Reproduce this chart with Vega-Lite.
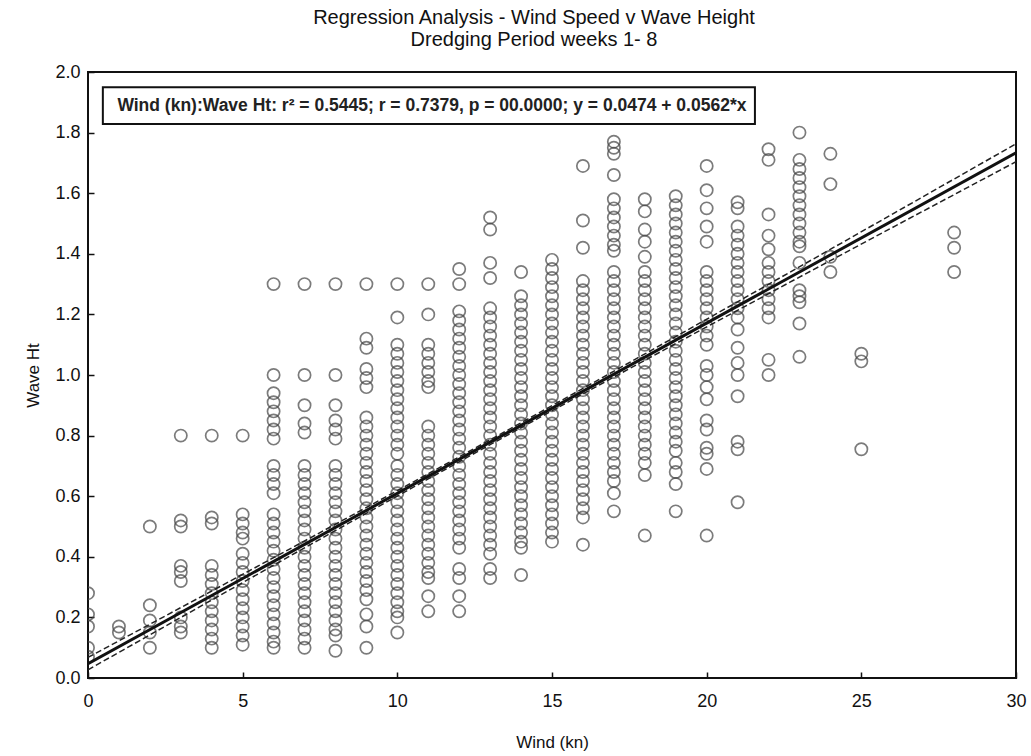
{
  "$schema": "https://vega.github.io/schema/vega-lite/v6.json",
  "autosize": "none",
  "width": 928,
  "height": 606,
  "padding": {"left": 88, "top": 72, "right": 15, "bottom": 78},
  "background": "white",
  "config": {
    "font": "Liberation Sans",
    "view": {"stroke": "#111", "strokeWidth": 2},
    "axis": {"grid": false, "domain": false, "labelFont": "Liberation Sans", "titleFont": "Liberation Sans", "labelFontSize": 18, "titleFontSize": 17, "titleFontWeight": "normal", "labelColor": "#111", "titleColor": "#111", "tickColor": "#111", "tickSize": -6, "tickWidth": 1.5}
  },
  "title": {
    "text": ["Regression Analysis - Wind Speed v Wave Height", "Dredging Period weeks 1- 8"],
    "fontSize": 20, "fontWeight": "normal", "font": "Liberation Sans", "color": "#111", "lineHeight": 22, "offset": 13, "anchor": "middle", "dx": -18
  },
  "datasets": {
    "pts": [
      {"w":0,"h":0.28},{"w":0,"h":0.21},{"w":0,"h":0.17},{"w":0,"h":0.10},{"w":0,"h":0.07},
      {"w":1,"h":0.17},{"w":1,"h":0.15},
      {"w":2,"h":0.50},{"w":2,"h":0.24},{"w":2,"h":0.19},{"w":2,"h":0.15},{"w":2,"h":0.10},
      {"w":3,"h":0.80},{"w":3,"h":0.52},{"w":3,"h":0.50},{"w":3,"h":0.37},{"w":3,"h":0.35},{"w":3,"h":0.32},{"w":3,"h":0.20},{"w":3,"h":0.17},{"w":3,"h":0.15},
      {"w":4,"h":0.80},{"w":4,"h":0.53},{"w":4,"h":0.51},{"w":4,"h":0.37},{"w":4,"h":0.34},{"w":4,"h":0.31},{"w":4,"h":0.28},{"w":4,"h":0.25},{"w":4,"h":0.22},{"w":4,"h":0.19},{"w":4,"h":0.16},{"w":4,"h":0.13},{"w":4,"h":0.10},
      {"w":5,"h":0.80},{"w":5,"h":0.54},{"w":5,"h":0.51},{"w":5,"h":0.48},{"w":5,"h":0.46},{"w":5,"h":0.41},{"w":5,"h":0.38},{"w":5,"h":0.35},{"w":5,"h":0.32},{"w":5,"h":0.29},{"w":5,"h":0.26},{"w":5,"h":0.23},{"w":5,"h":0.20},{"w":5,"h":0.17},{"w":5,"h":0.14},{"w":5,"h":0.11},
      {"w":6,"h":1.30},{"w":6,"h":1.00},{"w":6,"h":0.94},{"w":6,"h":0.91},{"w":6,"h":0.88},{"w":6,"h":0.85},{"w":6,"h":0.82},{"w":6,"h":0.79},{"w":6,"h":0.70},{"w":6,"h":0.67},{"w":6,"h":0.64},{"w":6,"h":0.61},{"w":6,"h":0.54},{"w":6,"h":0.51},{"w":6,"h":0.48},{"w":6,"h":0.45},{"w":6,"h":0.42},{"w":6,"h":0.39},{"w":6,"h":0.36},{"w":6,"h":0.33},{"w":6,"h":0.30},{"w":6,"h":0.27},{"w":6,"h":0.24},{"w":6,"h":0.21},{"w":6,"h":0.18},{"w":6,"h":0.15},{"w":6,"h":0.12},{"w":6,"h":0.10},
      {"w":7,"h":1.30},{"w":7,"h":1.00},{"w":7,"h":0.90},{"w":7,"h":0.84},{"w":7,"h":0.81},{"w":7,"h":0.70},{"w":7,"h":0.67},{"w":7,"h":0.64},{"w":7,"h":0.61},{"w":7,"h":0.58},{"w":7,"h":0.55},{"w":7,"h":0.52},{"w":7,"h":0.49},{"w":7,"h":0.46},{"w":7,"h":0.43},{"w":7,"h":0.40},{"w":7,"h":0.37},{"w":7,"h":0.34},{"w":7,"h":0.31},{"w":7,"h":0.28},{"w":7,"h":0.25},{"w":7,"h":0.22},{"w":7,"h":0.19},{"w":7,"h":0.16},{"w":7,"h":0.13},{"w":7,"h":0.10},
      {"w":8,"h":1.30},{"w":8,"h":1.00},{"w":8,"h":0.90},{"w":8,"h":0.85},{"w":8,"h":0.82},{"w":8,"h":0.79},{"w":8,"h":0.70},{"w":8,"h":0.67},{"w":8,"h":0.64},{"w":8,"h":0.61},{"w":8,"h":0.58},{"w":8,"h":0.55},{"w":8,"h":0.52},{"w":8,"h":0.49},{"w":8,"h":0.46},{"w":8,"h":0.43},{"w":8,"h":0.40},{"w":8,"h":0.37},{"w":8,"h":0.34},{"w":8,"h":0.31},{"w":8,"h":0.28},{"w":8,"h":0.25},{"w":8,"h":0.22},{"w":8,"h":0.19},{"w":8,"h":0.16},{"w":8,"h":0.14},{"w":8,"h":0.09},
      {"w":9,"h":1.30},{"w":9,"h":1.12},{"w":9,"h":1.09},{"w":9,"h":1.02},{"w":9,"h":0.99},{"w":9,"h":0.96},{"w":9,"h":0.86},{"w":9,"h":0.83},{"w":9,"h":0.80},{"w":9,"h":0.77},{"w":9,"h":0.74},{"w":9,"h":0.71},{"w":9,"h":0.68},{"w":9,"h":0.65},{"w":9,"h":0.62},{"w":9,"h":0.59},{"w":9,"h":0.56},{"w":9,"h":0.53},{"w":9,"h":0.50},{"w":9,"h":0.47},{"w":9,"h":0.44},{"w":9,"h":0.41},{"w":9,"h":0.38},{"w":9,"h":0.35},{"w":9,"h":0.32},{"w":9,"h":0.29},{"w":9,"h":0.26},{"w":9,"h":0.21},{"w":9,"h":0.17},{"w":9,"h":0.10},
      {"w":10,"h":1.30},{"w":10,"h":1.19},{"w":10,"h":1.10},{"w":10,"h":1.07},{"w":10,"h":1.04},{"w":10,"h":1.01},{"w":10,"h":0.98},{"w":10,"h":0.95},{"w":10,"h":0.92},{"w":10,"h":0.89},{"w":10,"h":0.86},{"w":10,"h":0.83},{"w":10,"h":0.80},{"w":10,"h":0.77},{"w":10,"h":0.74},{"w":10,"h":0.70},{"w":10,"h":0.67},{"w":10,"h":0.64},{"w":10,"h":0.61},{"w":10,"h":0.58},{"w":10,"h":0.55},{"w":10,"h":0.52},{"w":10,"h":0.49},{"w":10,"h":0.46},{"w":10,"h":0.43},{"w":10,"h":0.40},{"w":10,"h":0.37},{"w":10,"h":0.34},{"w":10,"h":0.31},{"w":10,"h":0.28},{"w":10,"h":0.25},{"w":10,"h":0.22},{"w":10,"h":0.20},{"w":10,"h":0.15},
      {"w":11,"h":1.30},{"w":11,"h":1.20},{"w":11,"h":1.10},{"w":11,"h":1.07},{"w":11,"h":1.04},{"w":11,"h":1.01},{"w":11,"h":0.98},{"w":11,"h":0.96},{"w":11,"h":0.83},{"w":11,"h":0.80},{"w":11,"h":0.77},{"w":11,"h":0.74},{"w":11,"h":0.71},{"w":11,"h":0.68},{"w":11,"h":0.65},{"w":11,"h":0.62},{"w":11,"h":0.59},{"w":11,"h":0.56},{"w":11,"h":0.53},{"w":11,"h":0.50},{"w":11,"h":0.47},{"w":11,"h":0.44},{"w":11,"h":0.41},{"w":11,"h":0.38},{"w":11,"h":0.35},{"w":11,"h":0.33},{"w":11,"h":0.27},{"w":11,"h":0.22},
      {"w":12,"h":1.35},{"w":12,"h":1.30},{"w":12,"h":1.21},{"w":12,"h":1.18},{"w":12,"h":1.15},{"w":12,"h":1.12},{"w":12,"h":1.09},{"w":12,"h":1.06},{"w":12,"h":1.03},{"w":12,"h":1.00},{"w":12,"h":0.97},{"w":12,"h":0.94},{"w":12,"h":0.91},{"w":12,"h":0.88},{"w":12,"h":0.85},{"w":12,"h":0.82},{"w":12,"h":0.79},{"w":12,"h":0.76},{"w":12,"h":0.73},{"w":12,"h":0.70},{"w":12,"h":0.67},{"w":12,"h":0.64},{"w":12,"h":0.61},{"w":12,"h":0.58},{"w":12,"h":0.55},{"w":12,"h":0.52},{"w":12,"h":0.49},{"w":12,"h":0.46},{"w":12,"h":0.43},{"w":12,"h":0.36},{"w":12,"h":0.33},{"w":12,"h":0.27},{"w":12,"h":0.22},
      {"w":13,"h":1.52},{"w":13,"h":1.48},{"w":13,"h":1.37},{"w":13,"h":1.32},{"w":13,"h":1.22},{"w":13,"h":1.19},{"w":13,"h":1.16},{"w":13,"h":1.13},{"w":13,"h":1.10},{"w":13,"h":1.07},{"w":13,"h":1.04},{"w":13,"h":1.01},{"w":13,"h":0.98},{"w":13,"h":0.95},{"w":13,"h":0.92},{"w":13,"h":0.89},{"w":13,"h":0.86},{"w":13,"h":0.83},{"w":13,"h":0.80},{"w":13,"h":0.77},{"w":13,"h":0.74},{"w":13,"h":0.71},{"w":13,"h":0.68},{"w":13,"h":0.65},{"w":13,"h":0.62},{"w":13,"h":0.59},{"w":13,"h":0.56},{"w":13,"h":0.53},{"w":13,"h":0.50},{"w":13,"h":0.47},{"w":13,"h":0.44},{"w":13,"h":0.41},{"w":13,"h":0.36},{"w":13,"h":0.33},
      {"w":14,"h":1.34},{"w":14,"h":1.26},{"w":14,"h":1.23},{"w":14,"h":1.20},{"w":14,"h":1.17},{"w":14,"h":1.14},{"w":14,"h":1.11},{"w":14,"h":1.08},{"w":14,"h":1.05},{"w":14,"h":1.02},{"w":14,"h":0.99},{"w":14,"h":0.96},{"w":14,"h":0.93},{"w":14,"h":0.90},{"w":14,"h":0.87},{"w":14,"h":0.84},{"w":14,"h":0.81},{"w":14,"h":0.78},{"w":14,"h":0.75},{"w":14,"h":0.72},{"w":14,"h":0.69},{"w":14,"h":0.66},{"w":14,"h":0.63},{"w":14,"h":0.60},{"w":14,"h":0.57},{"w":14,"h":0.54},{"w":14,"h":0.51},{"w":14,"h":0.48},{"w":14,"h":0.45},{"w":14,"h":0.43},{"w":14,"h":0.34},
      {"w":15,"h":1.38},{"w":15,"h":1.35},{"w":15,"h":1.32},{"w":15,"h":1.29},{"w":15,"h":1.26},{"w":15,"h":1.23},{"w":15,"h":1.20},{"w":15,"h":1.17},{"w":15,"h":1.14},{"w":15,"h":1.11},{"w":15,"h":1.08},{"w":15,"h":1.05},{"w":15,"h":1.02},{"w":15,"h":0.99},{"w":15,"h":0.96},{"w":15,"h":0.93},{"w":15,"h":0.90},{"w":15,"h":0.87},{"w":15,"h":0.84},{"w":15,"h":0.81},{"w":15,"h":0.78},{"w":15,"h":0.75},{"w":15,"h":0.72},{"w":15,"h":0.69},{"w":15,"h":0.66},{"w":15,"h":0.63},{"w":15,"h":0.60},{"w":15,"h":0.57},{"w":15,"h":0.54},{"w":15,"h":0.51},{"w":15,"h":0.48},{"w":15,"h":0.45},
      {"w":16,"h":1.69},{"w":16,"h":1.51},{"w":16,"h":1.42},{"w":16,"h":1.31},{"w":16,"h":1.28},{"w":16,"h":1.25},{"w":16,"h":1.22},{"w":16,"h":1.19},{"w":16,"h":1.16},{"w":16,"h":1.13},{"w":16,"h":1.10},{"w":16,"h":1.07},{"w":16,"h":1.04},{"w":16,"h":1.01},{"w":16,"h":0.98},{"w":16,"h":0.95},{"w":16,"h":0.92},{"w":16,"h":0.89},{"w":16,"h":0.86},{"w":16,"h":0.83},{"w":16,"h":0.80},{"w":16,"h":0.77},{"w":16,"h":0.74},{"w":16,"h":0.71},{"w":16,"h":0.68},{"w":16,"h":0.65},{"w":16,"h":0.62},{"w":16,"h":0.59},{"w":16,"h":0.56},{"w":16,"h":0.53},{"w":16,"h":0.44},
      {"w":17,"h":1.77},{"w":17,"h":1.75},{"w":17,"h":1.73},{"w":17,"h":1.66},{"w":17,"h":1.58},{"w":17,"h":1.55},{"w":17,"h":1.52},{"w":17,"h":1.49},{"w":17,"h":1.46},{"w":17,"h":1.43},{"w":17,"h":1.41},{"w":17,"h":1.34},{"w":17,"h":1.31},{"w":17,"h":1.28},{"w":17,"h":1.25},{"w":17,"h":1.22},{"w":17,"h":1.19},{"w":17,"h":1.16},{"w":17,"h":1.13},{"w":17,"h":1.10},{"w":17,"h":1.07},{"w":17,"h":1.04},{"w":17,"h":1.01},{"w":17,"h":0.98},{"w":17,"h":0.95},{"w":17,"h":0.92},{"w":17,"h":0.89},{"w":17,"h":0.86},{"w":17,"h":0.83},{"w":17,"h":0.80},{"w":17,"h":0.77},{"w":17,"h":0.74},{"w":17,"h":0.71},{"w":17,"h":0.68},{"w":17,"h":0.65},{"w":17,"h":0.61},{"w":17,"h":0.55},
      {"w":18,"h":1.58},{"w":18,"h":1.54},{"w":18,"h":1.48},{"w":18,"h":1.44},{"w":18,"h":1.39},{"w":18,"h":1.34},{"w":18,"h":1.31},{"w":18,"h":1.28},{"w":18,"h":1.25},{"w":18,"h":1.22},{"w":18,"h":1.19},{"w":18,"h":1.16},{"w":18,"h":1.13},{"w":18,"h":1.10},{"w":18,"h":1.07},{"w":18,"h":1.04},{"w":18,"h":1.01},{"w":18,"h":0.98},{"w":18,"h":0.95},{"w":18,"h":0.92},{"w":18,"h":0.89},{"w":18,"h":0.86},{"w":18,"h":0.83},{"w":18,"h":0.80},{"w":18,"h":0.77},{"w":18,"h":0.74},{"w":18,"h":0.71},{"w":18,"h":0.67},{"w":18,"h":0.47},
      {"w":19,"h":1.59},{"w":19,"h":1.56},{"w":19,"h":1.53},{"w":19,"h":1.50},{"w":19,"h":1.47},{"w":19,"h":1.44},{"w":19,"h":1.41},{"w":19,"h":1.38},{"w":19,"h":1.35},{"w":19,"h":1.32},{"w":19,"h":1.29},{"w":19,"h":1.26},{"w":19,"h":1.23},{"w":19,"h":1.20},{"w":19,"h":1.17},{"w":19,"h":1.14},{"w":19,"h":1.11},{"w":19,"h":1.08},{"w":19,"h":1.05},{"w":19,"h":1.02},{"w":19,"h":0.99},{"w":19,"h":0.96},{"w":19,"h":0.93},{"w":19,"h":0.90},{"w":19,"h":0.87},{"w":19,"h":0.84},{"w":19,"h":0.81},{"w":19,"h":0.78},{"w":19,"h":0.75},{"w":19,"h":0.71},{"w":19,"h":0.68},{"w":19,"h":0.64},{"w":19,"h":0.55},
      {"w":20,"h":1.69},{"w":20,"h":1.61},{"w":20,"h":1.55},{"w":20,"h":1.49},{"w":20,"h":1.44},{"w":20,"h":1.34},{"w":20,"h":1.31},{"w":20,"h":1.28},{"w":20,"h":1.25},{"w":20,"h":1.22},{"w":20,"h":1.19},{"w":20,"h":1.16},{"w":20,"h":1.13},{"w":20,"h":1.10},{"w":20,"h":1.03},{"w":20,"h":1.00},{"w":20,"h":0.96},{"w":20,"h":0.92},{"w":20,"h":0.85},{"w":20,"h":0.82},{"w":20,"h":0.76},{"w":20,"h":0.74},{"w":20,"h":0.69},{"w":20,"h":0.47},
      {"w":21,"h":1.57},{"w":21,"h":1.55},{"w":21,"h":1.49},{"w":21,"h":1.46},{"w":21,"h":1.43},{"w":21,"h":1.40},{"w":21,"h":1.37},{"w":21,"h":1.34},{"w":21,"h":1.31},{"w":21,"h":1.28},{"w":21,"h":1.25},{"w":21,"h":1.22},{"w":21,"h":1.19},{"w":21,"h":1.15},{"w":21,"h":1.09},{"w":21,"h":1.04},{"w":21,"h":1.00},{"w":21,"h":0.93},{"w":21,"h":0.78},{"w":21,"h":0.755},{"w":21,"h":0.58},
      {"w":22,"h":1.745},{"w":22,"h":1.71},{"w":22,"h":1.53},{"w":22,"h":1.46},{"w":22,"h":1.415},{"w":22,"h":1.37},{"w":22,"h":1.34},{"w":22,"h":1.31},{"w":22,"h":1.28},{"w":22,"h":1.25},{"w":22,"h":1.22},{"w":22,"h":1.19},{"w":22,"h":1.05},{"w":22,"h":1.00},
      {"w":23,"h":1.80},{"w":23,"h":1.71},{"w":23,"h":1.68},{"w":23,"h":1.65},{"w":23,"h":1.62},{"w":23,"h":1.59},{"w":23,"h":1.56},{"w":23,"h":1.53},{"w":23,"h":1.50},{"w":23,"h":1.47},{"w":23,"h":1.44},{"w":23,"h":1.425},{"w":23,"h":1.37},{"w":23,"h":1.28},{"w":23,"h":1.26},{"w":23,"h":1.24},{"w":23,"h":1.17},{"w":23,"h":1.06},
      {"w":24,"h":1.73},{"w":24,"h":1.63},{"w":24,"h":1.39},{"w":24,"h":1.34},
      {"w":25,"h":1.07},{"w":25,"h":1.045},{"w":25,"h":0.755},
      {"w":28,"h":1.47},{"w":28,"h":1.42},{"w":28,"h":1.34}
    ],
    "fit": [
      {"w":0,"h":0.0474},{"w":30,"h":1.7334}
    ],
    "bands": [
      {"s":"upper","w":0,"h":0.068},{"s":"upper","w":13,"h":0.786},{"s":"upper","w":30,"h":1.763},
      {"s":"lower","w":0,"h":0.027},{"s":"lower","w":13,"h":0.770},{"s":"lower","w":30,"h":1.704}
    ]
  },
  "layer": [
    {
      "data": {"name": "pts"},
      "mark": {"type": "point", "shape": "circle", "filled": false, "size": 150, "stroke": "#444", "strokeWidth": 1.7, "clip": true},
      "encoding": {
        "x": {"field": "w", "type": "quantitative", "scale": {"domain": [0, 30], "nice": false, "zero": false}, "axis": {"title": "Wind (kn)", "values": [0,5,10,15,20,25,30], "labelPadding": 20, "titlePadding": 24, "labelFlush": false}},
        "y": {"field": "h", "type": "quantitative", "scale": {"domain": [0, 2], "nice": false}, "axis": {"title": "Wave Ht", "values": [0,0.2,0.4,0.6,0.8,1.0,1.2,1.4,1.6,1.8,2.0], "format": ".1f", "labelPadding": 14, "titlePadding": 12, "labelFlush": false}}
      }
    },
    {
      "data": {"name": "bands"},
      "mark": {"type": "line", "stroke": "#222", "strokeWidth": 1.5, "strokeDash": [6, 3], "interpolate": "monotone", "clip": true},
      "encoding": {
        "x": {"field": "w", "type": "quantitative"},
        "y": {"field": "h", "type": "quantitative"},
        "detail": {"field": "s"}
      }
    },
    {
      "data": {"name": "fit"},
      "mark": {"type": "line", "stroke": "#111", "strokeWidth": 3, "clip": true},
      "encoding": {
        "x": {"field": "w", "type": "quantitative"},
        "y": {"field": "h", "type": "quantitative"}
      }
    },
    {
      "data": {"values": [{"label": "Wind (kn):Wave Ht:  r² = 0.5445;  r = 0.7379, p = 00.0000;  y = 0.0474 + 0.0562*x"}]},
      "layer": [
        {
          "mark": {"type": "rect", "fill": "white", "stroke": "#111", "strokeWidth": 2},
          "encoding": {
            "x": {"datum": 0.48}, "x2": {"datum": 21.56},
            "y": {"datum": 1.95}, "y2": {"datum": 1.828}
          }
        },
        {
          "mark": {"type": "text", "align": "left", "baseline": "middle", "fontSize": 17.5, "font": "Liberation Sans", "fontWeight": "bold", "color": "#222"},
          "encoding": {
            "x": {"datum": 0.95},
            "y": {"datum": 1.889},
            "text": {"field": "label"}
          }
        }
      ]
    }
  ]
}
